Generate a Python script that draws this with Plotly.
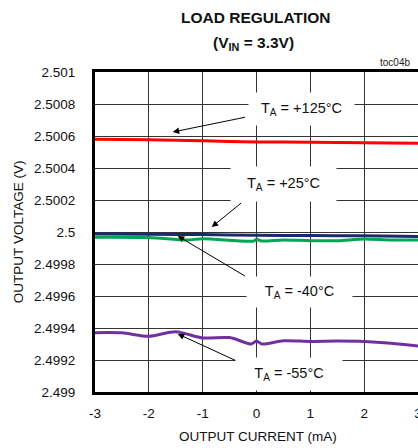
import plotly.graph_objects as go

# ---- data ----
x_red = [-3, -2, -1, 0, 1, 2, 3]
y_red = [2.50058, 2.500576, 2.50057, 2.500563, 2.500561, 2.500558, 2.500555]

x_navy = [-3, -2, -1, 0, 1, 2, 3]
y_navy = [2.499988, 2.499986, 2.499984, 2.49998, 2.499978, 2.499976, 2.499972]

x_green = [-3, -2, -1.3, -1, -0.05, 0, 0.1, 0.5, 1, 1.5, 2, 2.5, 3]
y_green = [2.499967, 2.499965, 2.49995, 2.499958, 2.499944, 2.499954, 2.499944,
           2.49995, 2.499946, 2.499946, 2.499956, 2.49995, 2.49995]

x_purple = [-3, -2.5, -2, -1.5, -1, -0.5, -0.1, 0, 0.1, 0.5, 1, 1.5, 2, 2.5, 3]
y_purple = [2.499371, 2.49937, 2.499348, 2.499377, 2.499338, 2.49934, 2.4993, 2.499318,
            2.4993, 2.49932, 2.499316, 2.499318, 2.499316, 2.499305, 2.499287]

y_tickvals = [2.501, 2.5008, 2.5006, 2.5004, 2.5002, 2.5, 2.4998, 2.4996, 2.4994, 2.4992, 2.499]
y_ticktext = ["2.501", "2.5008", "2.5006", "2.5004", "2.5002", "2.5", "2.4998", "2.4996",
              "2.4994", "2.4992", "2.499"]
x_tickvals = [-3, -2, -1, 0, 1, 2, 3]
x_ticktext = ["-3", "-2", "-1", "0", "1", "2", "3"]

FONT = "Liberation Sans, Arial, sans-serif"

fig = go.Figure()
for xs, ys, col in [(x_red, y_red, "#ff0000"),
                    (x_navy, y_navy, "#1b2a6b"),
                    (x_green, y_green, "#00a651"),
                    (x_purple, y_purple, "#7030a0")]:
    fig.add_trace(go.Scatter(x=xs, y=ys, mode="lines",
                             line=dict(color=col, width=3, shape="spline", smoothing=0.8),
                             showlegend=False, hoverinfo="skip"))

ann = []
# arrows (head x,y ; tail ax,ay)
arrows = [(-1.556, 2.500625, -0.185, 2.500719),
          (-0.833, 2.500031, -0.259, 2.500188),
          (-1.463, 2.499975, -0.185, 2.499719),
          (-1.463, 2.499363, -0.370, 2.499194)]
for hx, hy, tx, ty in arrows:
    ann.append(dict(x=hx, y=hy, ax=tx, ay=ty, xref="x", yref="y", axref="x", ayref="y",
                    text="", showarrow=True, arrowhead=2, arrowsize=1.3, arrowwidth=1,
                    arrowcolor="black"))
labels = [(0.843, 2.500769, "T<sub>A</sub> = +125°C", 105, 32),
          (0.509, 2.5003, "T<sub>A</sub> = +25°C", 105, 34),
          (0.796, 2.499625, "T<sub>A</sub> = -40°C", 105, 30),
          (0.611, 2.499113, "T<sub>A</sub> = -55°C", 106, 32)]
for lx, ly, t, w, h in labels:
    ann.append(dict(x=lx, y=ly, xref="x", yref="y", text=t, showarrow=False,
                    xanchor="center", yanchor="middle",
                    bgcolor="white", width=w, height=h, borderpad=0,
                    font=dict(family=FONT, size=14.5, color="#111")))

ann += [
    dict(x=0.498, y=1.169, xref="paper", yref="paper", text="<b>LOAD REGULATION</b>",
         xanchor="center", yanchor="middle",
         showarrow=False, font=dict(family=FONT, size=15.5, color="#111")),
    dict(x=0.492, y=1.088, xref="paper", yref="paper", text="<b>(V<sub>IN</sub> = 3.3V)</b>",
         xanchor="center", yanchor="middle",
         showarrow=False, font=dict(family=FONT, size=15.5, color="#111")),
    dict(x=0.929, y=1.031, xref="paper", yref="paper", text="toc04b",
         xanchor="center", yanchor="middle",
         showarrow=False, font=dict(family=FONT, size=10, color="#222")),
    dict(x=-0.238, y=0.5, xref="paper", yref="paper", text="OUTPUT VOLTAGE (V)", textangle=-90,
         xanchor="center", yanchor="middle",
         showarrow=False, font=dict(family=FONT, size=13.5, color="#111")),
    dict(x=0.505, y=-0.1406, xref="paper", yref="paper", text="OUTPUT CURRENT (mA)",
         xanchor="center", yanchor="middle",
         showarrow=False, font=dict(family=FONT, size=13.5, color="#111")),
]

axis_common = dict(showline=True, linewidth=3, linecolor="black", mirror=True,
                   showgrid=True, gridcolor="#333333", gridwidth=1, zeroline=False,
                   ticks="", automargin=False, ticklabeloverflow="allow",
                   tickfont=dict(family=FONT, size=13.5, color="#111"))

fig.update_layout(
    width=418, height=448,
    margin=dict(l=95, r=0, t=72, b=56, autoexpand=False),
    paper_bgcolor="white", plot_bgcolor="white",
    xaxis=dict(range=[-3, 3], tickvals=x_tickvals, ticktext=x_ticktext,
               ticklabelstandoff=7, **axis_common),
    yaxis=dict(range=[2.499, 2.501], tickvals=y_tickvals, ticktext=y_ticktext,
               ticklabelstandoff=14, **axis_common),
    annotations=ann,
)

# remove the default 8px page margin so the figure fills the window exactly
fig.write_html("out.html",
               config={"displayModeBar": False},
               post_script="document.body.style.margin='0';document.body.style.overflow='hidden';")
